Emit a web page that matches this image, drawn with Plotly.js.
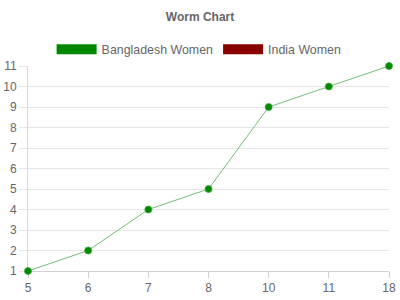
<!DOCTYPE html>
<html><head><meta charset="utf-8">
<script src="https://cdn.plot.ly/plotly-3.0.1.min.js"></script>
<style>html,body{margin:0;padding:0;background:#fff}#c{width:400px;height:300px}</style>
</head><body><div id="c"></div>
<script>
var overs = ['5','6','7','8','10','11','18'];
var bangladeshWomen = [1,2,4,5,9,10,11];
var yTicks = [1,2,3,4,5,6,7,8,9,10,11];

var traces = [
  {x: overs, y: bangladeshWomen, type:'scatter', mode:'lines+markers', showlegend:false, cliponaxis:false,
   line:{color:'rgba(0,136,0,0.55)', width:1},
   marker:{color:'#008800', size:7, line:{color:'rgba(60,170,60,0.8)', width:1}}},
  {x:[null], y:[null], type:'scatter', mode:'lines', name:'Bangladesh Women',
   line:{color:'#008800', width:10}},
  {x:[null], y:[null], type:'scatter', mode:'lines', name:'India Women',
   line:{color:'#880000', width:10}}
];
var fam = '"Liberation Sans", Arial, sans-serif';
var font = {family:fam, size:12, color:'#666666'};
var layout = {
  width:400, height:300,
  margin:{l:28, r:11, t:66, b:29},
  paper_bgcolor:'#fff', plot_bgcolor:'#fff',
  font: font,
  title:{text:'<b>Worm Chart</b>', x:0.5, xanchor:'center', y:0.945, yanchor:'middle', font:{family:fam, size:12, color:'#666666'}},
  showlegend:true,
  legend:{orientation:'h', x:0.474, xanchor:'center', y:1.08, yanchor:'middle', itemwidth:40, font:{family:fam, size:12.4, color:'#666666'}, traceorder:'normal'},
  xaxis:{type:'category', range:[0,6], showgrid:false, zeroline:false, showline:true, linecolor:'#d0d0d0', linewidth:1, layer:'below traces',
    ticks:'outside', ticklen:6, tickcolor:'#d0d0d0', tickfont:{family:fam, size:12, color:'#666666'}, fixedrange:true},
  yaxis:{range:[1,11], tickvals:yTicks, showgrid:true, gridcolor:'#e6e6e6', zeroline:false, showline:true, linecolor:'#d8d8d8', layer:'below traces',
    ticks:'outside', ticklen:8, tickcolor:'#e6e6e6', tickfont:{family:fam, size:12, color:'#666666'}, fixedrange:true}
};
Plotly.newPlot('c', traces, layout, {displayModeBar:false, staticPlot:true});
</script></body></html>
